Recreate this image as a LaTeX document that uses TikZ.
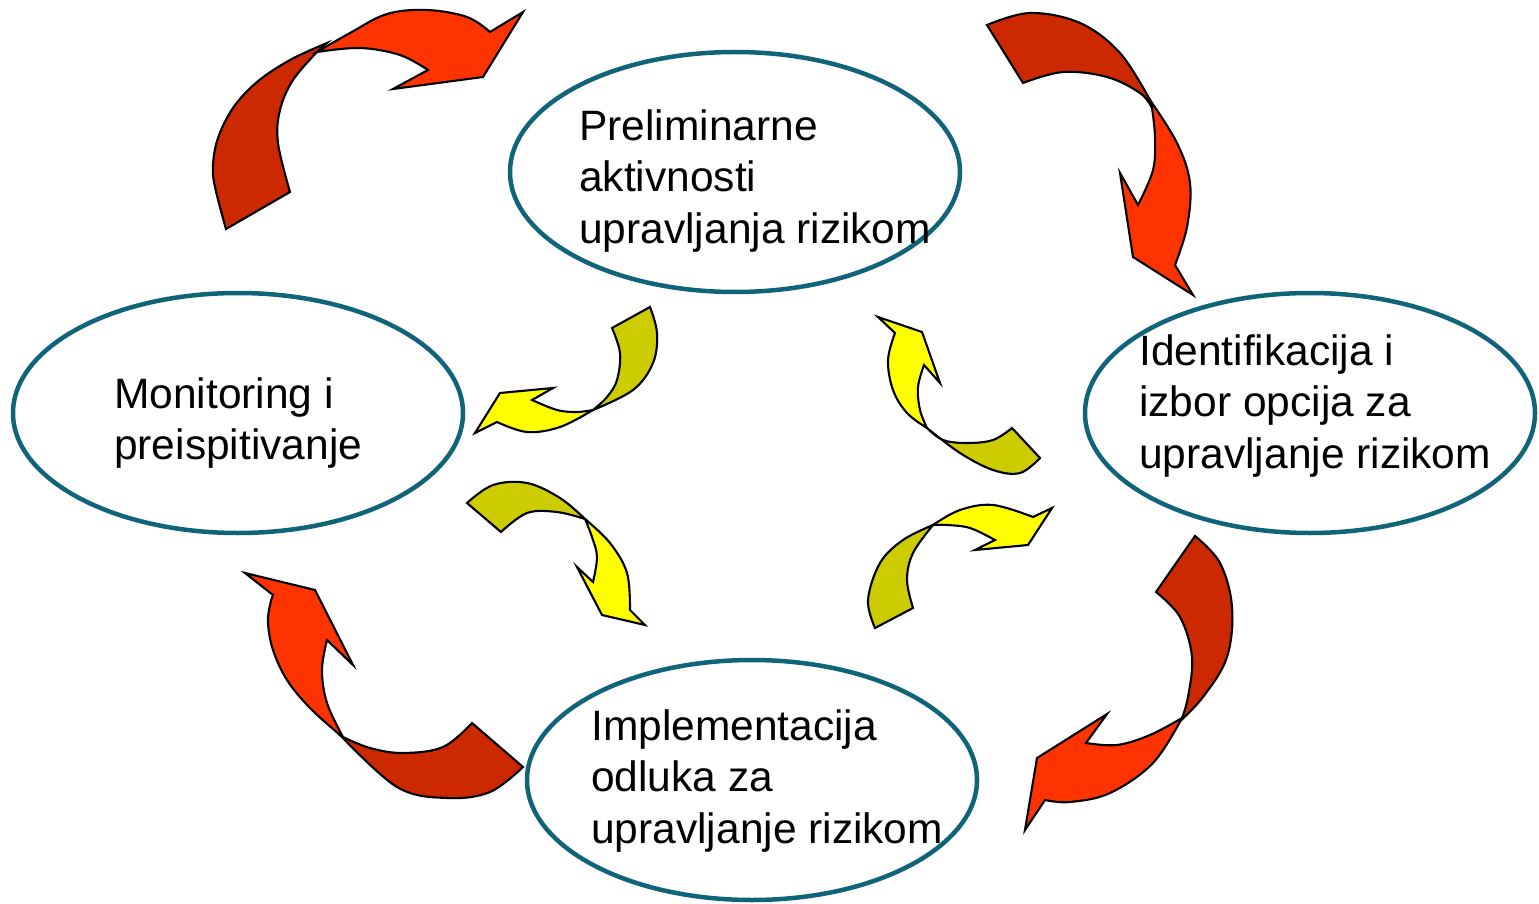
\documentclass[tikz,border=0pt]{standalone}
\usepackage{fontspec}
\setmainfont{Liberation Sans}
\usetikzlibrary{shapes.geometric}
\definecolor{brightred}{RGB}{255,51,0}
\definecolor{darkred}{RGB}{204,41,0}
\definecolor{brightyel}{RGB}{255,255,0}
\definecolor{darkyel}{RGB}{204,204,0}
\definecolor{ringcol}{RGB}{16,100,122}
\tikzset{
  ring/.style={draw=ringcol, line width=4.5pt, ellipse, minimum width=450pt, minimum height=240pt, inner sep=0pt},
  lbl/.style={anchor=west, align=left, inner sep=0pt, font=\fontsize{42.5}{51.5}\selectfont},
  band/.style={draw=black, line width=2.1pt, line join=miter},
  sm/.style={smooth, tension=0.6}
}
\begin{document}
\begin{tikzpicture}[x=1pt,y=-1pt]
\useasboundingbox (0,0) rectangle (1539,904);
\fill[white] (0,0) rectangle (1539,904);
% ellipses
\node[ring] (prelim) at (735,172) {};
\node[ring] (monit) at (238,413) {};
\node[ring] (ident) at (1310,413) {};
\node[ring] (impl) at (752,780) {};
% labels
\node[lbl] (tprelim) at (579,181) {Preliminarne\\aktivnosti\\upravljanja rizikom};
\node[lbl] (tmonit) at (114,423) {Monitoring i\\preispitivanje};
\node[lbl] (tident) at (1139,406) {Identifikacija i\\izbor opcija za\\upravljanje rizikom};
\node[lbl] (timpl) at (591,781) {Implementacija\\odluka za\\upravljanje rizikom};
% ---- red arrow top-left
\filldraw[band, fill=darkred] plot[sm] coordinates {(226,229) (215,187) (213,165) (218,138) (233,108) (257,82) (290,60) (327,43)}
  -- plot[sm] coordinates {(317,52) (293,80) (280,110) (278,143) (290,192)} -- cycle;
\filldraw[band, fill=brightred] plot[sm] coordinates {(317,52) (350,33) (387,14) (427,10) (467,17) (490,32)}
  -- (523,12) -- (483,77) -- (393,89) -- (428,70)
  -- plot[sm] coordinates {(428,70) (400,55) (360,48) (317,52)} -- cycle;
% ---- red arrow top-right
\filldraw[band, fill=darkred] plot[sm] coordinates {(987,25) (1030,13) (1080,23) (1120,53) (1150,100)}
  -- plot[sm] coordinates {(1152,108) (1140,93) (1107,77) (1063,72) (1023,83)} -- cycle;
\filldraw[band, fill=brightred] plot[sm] coordinates {(1150,100) (1177,143) (1190,183) (1187,227) (1175,265)}
  -- (1193,295) -- (1133,257) -- (1120,173) -- (1138,205)
  -- plot[sm] coordinates {(1138,205) (1153,170) (1155,137) (1152,108)} -- cycle;
% ---- red arrow bottom-right
\filldraw[band, fill=darkred] plot[sm] coordinates {(1195,536) (1220,563) (1232,607) (1227,657) (1203,697) (1178,723)}
  -- plot[sm] coordinates {(1182,718) (1188,697) (1192,657) (1180,617) (1156,592)} -- cycle;
\filldraw[band, fill=brightred] plot[sm] coordinates {(1182,718) (1153,763) (1110,793) (1070,802) (1045,800)}
  -- (1025,830) -- (1037,758) -- (1107,714) -- (1086,743)
  -- plot[sm] coordinates {(1086,743) (1117,745) (1150,735) (1182,718)} -- cycle;
% ---- red arrow bottom-left
\filldraw[band, fill=darkred] plot[sm] coordinates {(523,767) (490,792) (447,798) (397,787) (340,735)}
  -- plot[sm] coordinates {(343,737) (370,748) (403,753) (443,747) (472,723)} -- cycle;
\filldraw[band, fill=brightred] plot[sm] coordinates {(340,735) (310,708) (287,680) (273,650) (268,623) (270,605) (273,595)}
  -- (245,573) -- (315,590) -- (353,665) -- (327,640)
  -- plot[sm] coordinates {(327,640) (322,670) (327,703) (343,737)} -- cycle;
% ---- yellow arrow upper-left
\filldraw[band, fill=darkyel] plot[sm] coordinates {(650,307) (657,333) (653,363) (633,390) (593,410)}
  -- plot[sm] coordinates {(593,410) (607,397) (617,380) (620,353) (612,328)} -- cycle;
\filldraw[band, fill=brightyel] plot[sm] coordinates {(593,410) (560,427) (527,432) (497,422)}
  -- (475,433) -- (500,393) -- (553,388) -- (532,400)
  -- plot[sm] coordinates {(532,400) (557,410) (577,412) (593,410)} -- cycle;
% ---- yellow arrow lower-left
\filldraw[band, fill=darkyel] plot[sm] coordinates {(467,503) (493,485) (527,483) (560,498) (585,519)}
  -- plot[sm] coordinates {(585,519) (557,512) (527,513) (501,532)} -- cycle;
\filldraw[band, fill=brightyel] plot[sm] coordinates {(585,519) (610,543) (627,573) (630,610)}
  -- (645,625) -- (602,615) -- (577,567) -- (593,582)
  -- plot[sm] coordinates {(593,582) (597,557) (592,537) (585,519)} -- cycle;
% ---- yellow arrow upper-right
\filldraw[band, fill=darkyel] plot[sm] coordinates {(927,428) (960,453) (993,470) (1020,473) (1040,458)}
  -- (1012,428) -- plot[sm] coordinates {(1012,428) (993,440) (967,443) (943,440) (927,428)} -- cycle;
\filldraw[band, fill=brightyel] plot[sm] coordinates {(927,428) (907,413) (893,390) (888,360) (895,333)}
  -- (878,317) -- (922,332) -- (940,383) -- (924,365)
  -- plot[sm] coordinates {(924,365) (918,387) (920,410) (927,428)} -- cycle;
% ---- yellow arrow lower-right
\filldraw[band, fill=darkyel] plot[sm] coordinates {(875,628) (868,600) (880,563) (903,540) (933,525)}
  -- plot[sm] coordinates {(933,525) (913,553) (907,580) (913,608)} -- cycle;
\filldraw[band, fill=brightyel] plot[sm] coordinates {(933,525) (960,510) (993,505) (1033,517)}
  -- (1052,508) -- (1028,545) -- (975,550) -- (995,540)
  -- plot[sm] coordinates {(995,540) (970,528) (947,525) (933,525)} -- cycle;
\end{tikzpicture}
\end{document}
